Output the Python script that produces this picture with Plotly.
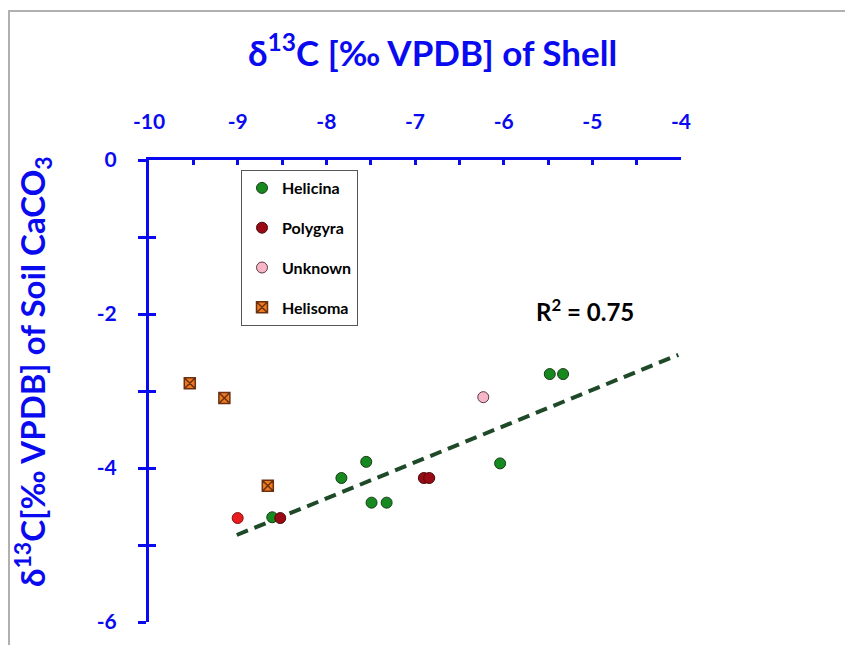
import plotly.graph_objects as go

# ---- data ----
helicina_x = [-8.61, -7.83, -7.55, -7.49, -7.32, -6.04, -5.48, -5.33]
helicina_y = [-4.64, -4.13, -3.92, -4.45, -4.45, -3.94, -2.78, -2.78]
polygyra_x = [-8.52, -6.90, -6.84]
polygyra_y = [-4.65, -4.13, -4.13]
unknown_x = [-6.23]
unknown_y = [-3.08]
helisoma_x = [-9.54, -9.15, -8.66]
helisoma_y = [-2.90, -3.09, -4.23]
extra_red_x = [-9.00]
extra_red_y = [-4.65]
trend_x = [-9.01, -4.03]
trend_y = [-4.87, -2.53]
r2_label = "R<sup>2</sup> = 0.75"

x_tickvals = [-10, -9, -8, -7, -6, -5, -4]
x_ticktext = ["-10", "-9", "-8", "-7", "-6", "-5", "-4"]
x_minorvals = [-9.5, -8.5, -7.5, -6.5, -5.5, -4.5]
y_tickvals = [-6, -4, -2, 0]
y_ticktext = ["-6", "-4", "-2", "0"]
y_minorvals = [-5, -3, -1]
y_alltickvals = [-6, -5, -4, -3, -2, -1, 0]

BLUE = "#0a0af0"
FONT = "Lato"
OFF = 8  # browser body margin
W, H = 853 - OFF, 645 - OFF
L, T = 149 - OFF, 160 - OFF
R, B = W - (681 - OFF), H - (622 - OFF)
PW, PH = W - L - R, H - T - B


def px(xp):  # page x pixel -> paper x
    return (xp - OFF - L) / PW


def py(yp):  # page y pixel -> paper y
    return 1 - (yp - OFF - T) / PH


fig = go.Figure()

fig.add_trace(go.Scatter(x=trend_x, y=trend_y, mode="lines", showlegend=False,
                         line=dict(color="#1f4a28", width=4, dash="12px,7px"),
                         hoverinfo="skip"))
fig.add_trace(go.Scatter(x=helicina_x, y=helicina_y, mode="markers", name="Helicina",
                         legendgroup="a",
                         marker=dict(size=11, color="#178a1f", line=dict(color="#1a3a1a", width=1))))
fig.add_trace(go.Scatter(x=polygyra_x, y=polygyra_y, mode="markers", name="Polygyra",
                         legendgroup="b",
                         marker=dict(size=11, color="#9a0a14", line=dict(color="#4a0a0a", width=1))))
fig.add_trace(go.Scatter(x=unknown_x, y=unknown_y, mode="markers", name="Unknown",
                         legendgroup="c",
                         marker=dict(size=11, color="#f6b6c8", line=dict(color="#5a3a40", width=1))))
fig.add_trace(go.Scatter(x=helisoma_x, y=helisoma_y, mode="markers", name="Helisoma",
                         legendgroup="d",
                         marker=dict(size=11, symbol="square-x", color="#f07a20",
                                     line=dict(color="#6a3010", width=1.5))))
fig.add_trace(go.Scatter(x=extra_red_x, y=extra_red_y, mode="markers", showlegend=False,
                         marker=dict(size=11, color="#e81c1c", line=dict(color="#8a1010", width=1))))
# overlay axis used for the inward half of the crossing y ticks
fig.add_trace(go.Scatter(x=[None], y=[None], yaxis="y2", showlegend=False, hoverinfo="skip"))

fig.update_layout(
    width=W, height=H,
    margin=dict(l=L, r=R, t=T, b=B, pad=0),
    paper_bgcolor="white", plot_bgcolor="white",
    font=dict(family=FONT, color=BLUE),
    showlegend=True,
    xaxis=dict(side="top", range=[-10, -4], showgrid=False, zeroline=False,
               showline=True, linecolor=BLUE, linewidth=3,
               tickvals=x_tickvals, ticktext=x_ticktext,
               ticks="inside", ticklen=5, tickwidth=3, tickcolor=BLUE,
               minor=dict(tickvals=x_minorvals, ticks="inside", ticklen=5,
                          tickwidth=3, tickcolor=BLUE, showgrid=False),
               ticklabelstandoff=20,
               tickfont=dict(family=FONT, size=21, color=BLUE, weight="bold")),
    yaxis=dict(range=[-6, 0], showgrid=False, zeroline=False,
               showline=True, linecolor=BLUE, linewidth=3,
               tickvals=y_tickvals, ticktext=y_ticktext,
               ticks="outside", ticklen=8, tickwidth=3, tickcolor=BLUE,
               minor=dict(tickvals=y_minorvals, ticks="outside", ticklen=8,
                          tickwidth=3, tickcolor=BLUE, showgrid=False),
               ticklabelstandoff=17,
               tickfont=dict(family=FONT, size=21, color=BLUE, weight="bold")),
    yaxis2=dict(range=[-6, 0], overlaying="y", side="left", showgrid=False,
                zeroline=False, showline=False, tickvals=y_alltickvals,
                ticks="inside", ticklen=7, tickwidth=3, tickcolor=BLUE,
                showticklabels=False),
    legend=dict(x=px(241), y=py(170), xanchor="left", yanchor="top",
                bgcolor="white", bordercolor="#555555", borderwidth=1,
                font=dict(family=FONT, size=16, color="black", weight="bold"),
                tracegroupgap=16, itemwidth=30),
    annotations=[
        dict(text="δ<sup>13</sup>C [‰ VPDB] of Shell", xref="paper", yref="paper",
             x=px(432), y=py(50), xanchor="center", yanchor="middle",
             showarrow=False, font=dict(family=FONT, size=35, color=BLUE, weight="bold")),
        dict(text="δ<sup>13</sup>C[‰ VPDB] of Soil CaCO<sub>3</sub>", xref="paper", yref="paper",
             x=px(32), y=py(372), xanchor="center", yanchor="middle",
             textangle=-90, showarrow=False,
             font=dict(family=FONT, size=33, color=BLUE, weight="bold")),
        dict(text=r2_label, x=-5.08, y=-1.95, xref="x", yref="y", showarrow=False,
             xanchor="center", yanchor="middle",
             font=dict(family=FONT, size=24, color="black", weight="bold")),
    ],
    shapes=[
        dict(type="path", xref="paper", yref="paper",
             path="M {l},{b} L {l},{t} L {r},{t}".format(
                 l=px(9), b=py(660), t=py(11), r=px(860)),
             line=dict(color="#b0b0b0", width=2)),
    ],
)

fig.write_html("out.html")
